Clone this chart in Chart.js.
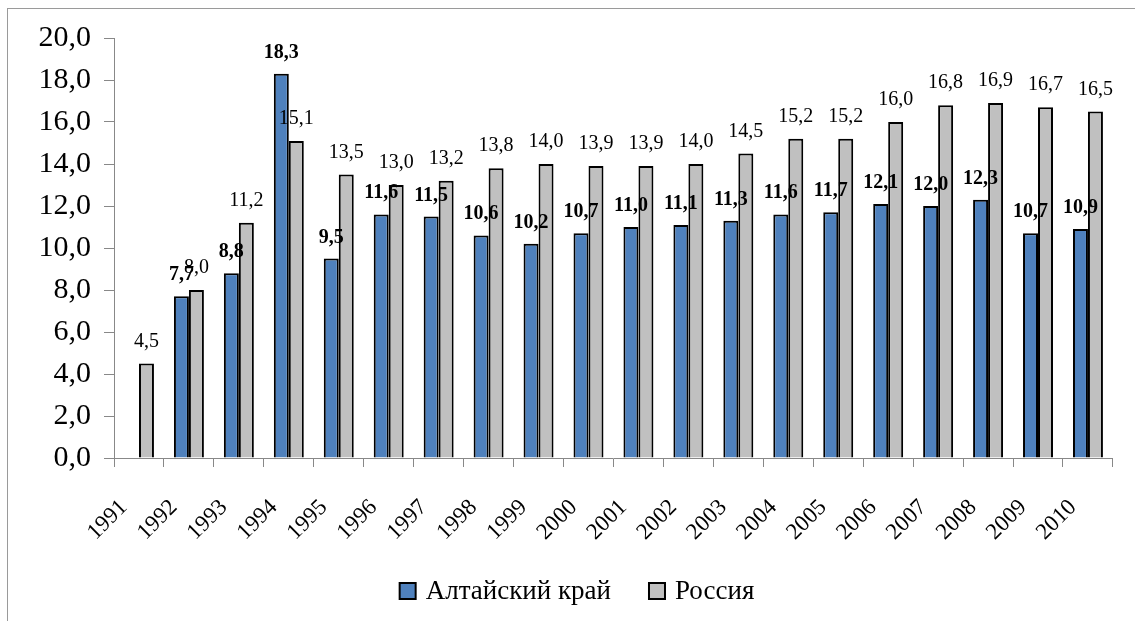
<!DOCTYPE html>
<html>
<head>
<meta charset="utf-8">
<script src="https://cdn.jsdelivr.net/npm/chart.js@4/dist/chart.umd.min.js"></script>
<style>
	html, body { margin: 0; padding: 0; background: #fff; }
	#wrap { width: 1135px; height: 621px; }
</style>
</head>
<body>
<div id="wrap"><canvas id="canvas" width="1135" height="621"></canvas></div>
<script>
var years = ['1991','1992','1993','1994','1995','1996','1997','1998','1999','2000',
	'2001','2002','2003','2004','2005','2006','2007','2008','2009','2010'];
var altai = [null, 7.7, 8.8, 18.3, 9.5, 11.6, 11.5, 10.6, 10.2, 10.7,
	11.0, 11.1, 11.3, 11.6, 11.7, 12.1, 12.0, 12.3, 10.7, 10.9];
var russia = [4.5, 8.0, 11.2, 15.1, 13.5, 13.0, 13.2, 13.8, 14.0, 13.9,
	13.9, 14.0, 14.5, 15.2, 15.2, 16.0, 16.8, 16.9, 16.7, 16.5];
var seriesNames = ['Алтайский край', 'Россия'];
var yTicks = [0, 2, 4, 6, 8, 10, 12, 14, 16, 18, 20];

var serif = 'Liberation Serif';
Chart.defaults.font.family = serif;

function fmt(v){
	return v.toFixed(1).replace('.', ',');
}

// рамка вокруг всей диаграммы
var frame = {
	id: 'frame',
	beforeDraw: function(chart){
		var ctx = chart.ctx;
		ctx.save();
		ctx.strokeStyle = '#9a9a9a';
		ctx.lineWidth = 1;
		ctx.strokeRect(7.5, 8.5, 1300, 800);
		ctx.restore();
	}
};

// подписи значений над столбцами
var valueLabels = {
	id: 'valueLabels',
	afterDatasetsDraw: function(chart){
		var ctx = chart.ctx;
		ctx.save();
		ctx.fillStyle = '#000';
		ctx.textAlign = 'center';
		ctx.textBaseline = 'alphabetic';
		for(var d = 0; d < chart.data.datasets.length; d++){
			var meta = chart.getDatasetMeta(d);
			var data = chart.data.datasets[d].data;
			ctx.font = (d === 0 ? 'bold ' : '') + '20px "' + serif + '"';
			for(var i = 0; i < meta.data.length; i++){
				if(data[i] == null) continue;
				var bar = meta.data[i];
				ctx.fillText(fmt(data[i]), bar.x, bar.y - (d === 0 ? 16 : 17));
			}
		}
		ctx.restore();
	}
};

// легенда внизу (свой вариант, чтобы выдержать интервалы как в оригинале)
var bottomLegend = {
	id: 'bottomLegend',
	afterDraw: function(chart){
		var ctx = chart.ctx;
		var ds = chart.data.datasets;
		var box = 16, gapText = 10, gapItem = 38, cy = 591, cx = 577;
		ctx.save();
		ctx.font = '27px "' + serif + '"';
		var widths = ds.map(function(d){ return ctx.measureText(d.label).width; });
		var total = 0;
		for(var i = 0; i < ds.length; i++){
			total += box + gapText + widths[i] + (i < ds.length - 1 ? gapItem : 0);
		}
		var x = cx - total / 2;
		ctx.textBaseline = 'middle';
		ctx.textAlign = 'left';
		for(var i = 0; i < ds.length; i++){
			ctx.fillStyle = ds[i].backgroundColor;
			ctx.fillRect(x, cy - box / 2, box, box);
			ctx.strokeStyle = '#000';
			ctx.lineWidth = 2;
			ctx.strokeRect(x, cy - box / 2, box, box);
			ctx.fillStyle = '#000';
			ctx.fillText(ds[i].label, x + box + gapText, cy + 1);
			x += box + gapText + widths[i] + gapItem;
		}
		ctx.restore();
	}
};

function drawChart(){
	var ctx = document.getElementById('canvas').getContext('2d');
	window.myBar = new Chart(ctx, {
		type: 'bar',
		data: {
			labels: years,
			datasets: [{
				label: seriesNames[0],
				data: altai,
				backgroundColor: '#4f81bd',
				borderColor: '#000',
				borderWidth: 2,
				categoryPercentage: 0.6,
				barPercentage: 1.0
			}, {
				label: seriesNames[1],
				data: russia,
				backgroundColor: '#c0c0c0',
				borderColor: '#000',
				borderWidth: 2,
				categoryPercentage: 0.6,
				barPercentage: 1.0
			}]
		},
		options: {
			responsive: false,
			animation: false,
			layout: { padding: { top: 38, right: 21, bottom: 0, left: 0 } },
			plugins: {
				tooltip: { enabled: false },
				legend: { display: false }
			},
			scales: {
				x: {
					grid: {
						display: true,
						drawOnChartArea: false,
						offset: true,
						color: '#888',
						tickLength: 9
					},
					border: { color: '#888' },
					ticks: {
						color: '#000',
						font: { family: serif, size: 23 },
						minRotation: 45,
						maxRotation: 45,
						autoSkip: false,
						padding: 27,
						labelOffset: -15
					},
					afterFit: function(scale){ scale.height = 163; }
				},
				y: {
					min: 0,
					max: 20,
					grid: {
						display: true,
						drawOnChartArea: false,
						color: '#888',
						tickLength: 10
					},
					border: { color: '#888' },
					afterBuildTicks: function(scale){
						scale.ticks = yTicks.map(function(v){ return { value: v }; });
					},
					ticks: {
						color: '#000',
						font: { family: serif, size: 30 },
						padding: 13,
						callback: function(v){ return fmt(v); }
					},
					afterFit: function(scale){ scale.width = 114; }
				}
			}
		},
		plugins: [frame, valueLabels, bottomLegend]
	});
}

Promise.all([
	document.fonts.load('30px "' + serif + '"'),
	document.fonts.load('bold 20px "' + serif + '"')
]).then(drawChart, drawChart);
</script>
</body>
</html>
